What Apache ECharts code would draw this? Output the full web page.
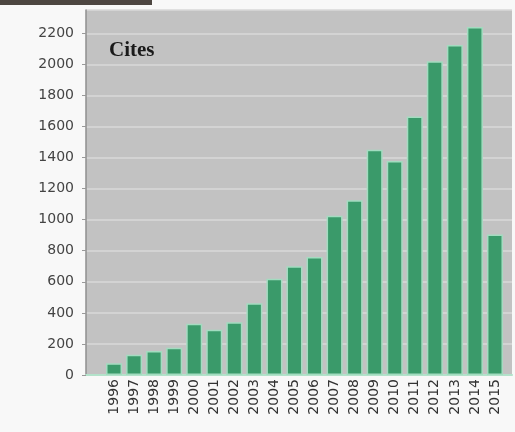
<!DOCTYPE html>
<html><head><meta charset="utf-8">
<script src="https://cdn.jsdelivr.net/npm/echarts@6/dist/echarts.min.js"></script>
<style>html,body{margin:0;padding:0;background:#f8f8f8;}#c{width:515px;height:432px;}</style>
</head><body><div id="c"></div>
<script>
var years = ['1996','1997','1998','1999','2000','2001','2002','2003','2004','2005','2006','2007','2008','2009','2010','2011','2012','2013','2014','2015'];
var cites = [75, 130, 155, 175, 330, 292, 340, 462, 620, 700, 760, 1025, 1125, 1450, 1378, 1665, 2020, 2125, 2240, 905];
var yTicks = [0,200,400,600,800,1000,1200,1400,1600,1800,2000,2200];
var yMax = 2350;

var chart = echarts.init(document.getElementById('c'), null, {renderer:'canvas'});
chart.setOption({
  backgroundColor: '#f8f8f8',
  animation: false,
  title: {text: 'Cites', left: 104, top: 35,
    textStyle: {fontFamily: 'Liberation Serif', fontWeight: 'bold', fontSize: 21, color: '#1a1a1a'}},
  graphic: [{type: 'rect', left: 0, top: 0, shape: {width: 152, height: 5}, style: {fill: '#4d4641'}}],
  grid: [
    {left: 86, right: 3, top: 10, bottom: 57, show: true, backgroundColor: '#c2c2c2', borderWidth: 0},
    {left: 104, right: 10, top: 10, bottom: 57}
  ],
  xAxis: [
    {gridIndex: 0, type: 'category', data: years, show: true,
     axisLine: {show: true, lineStyle: {color: '#b3e2ca', width: 2}},
     axisTick: {show: false}, axisLabel: {show: false}, splitLine: {show: false}},
    {gridIndex: 1, type: 'category', data: years, boundaryGap: true,
     axisLine: {show: false}, axisTick: {show: false},
     axisLabel: {rotate: 90, margin: 4, interval: 0, fontFamily: 'DejaVu Sans', fontSize: 14, color: '#333'}}
  ],
  yAxis: [
    {gridIndex: 0, type: 'value', min: 0, max: yMax, interval: 200,
     axisLine: {show: true, lineStyle: {color: '#8f8f8f', width: 1.5}},
     axisTick: {show: true, length: 4, lineStyle: {color: '#999'}},
     axisLabel: {margin: 12, fontFamily: 'DejaVu Sans', fontSize: 14, color: '#444', showMaxLabel: false,
       formatter: function(v){ return yTicks.indexOf(v) >= 0 ? String(v) : ''; }},
     splitLine: {show: true, lineStyle: {color: '#d8d8d8', width: 1.5}}},
    {gridIndex: 1, type: 'value', min: 0, max: yMax, show: false, splitLine: {show: false}}
  ],
  series: [{
    type: 'bar', xAxisIndex: 1, yAxisIndex: 1, data: cites, barWidth: 16,
    itemStyle: {color: '#3a9a6a', borderColor: '#a3dcc0', borderWidth: 1.5}
  }]
});
</script></body></html>
